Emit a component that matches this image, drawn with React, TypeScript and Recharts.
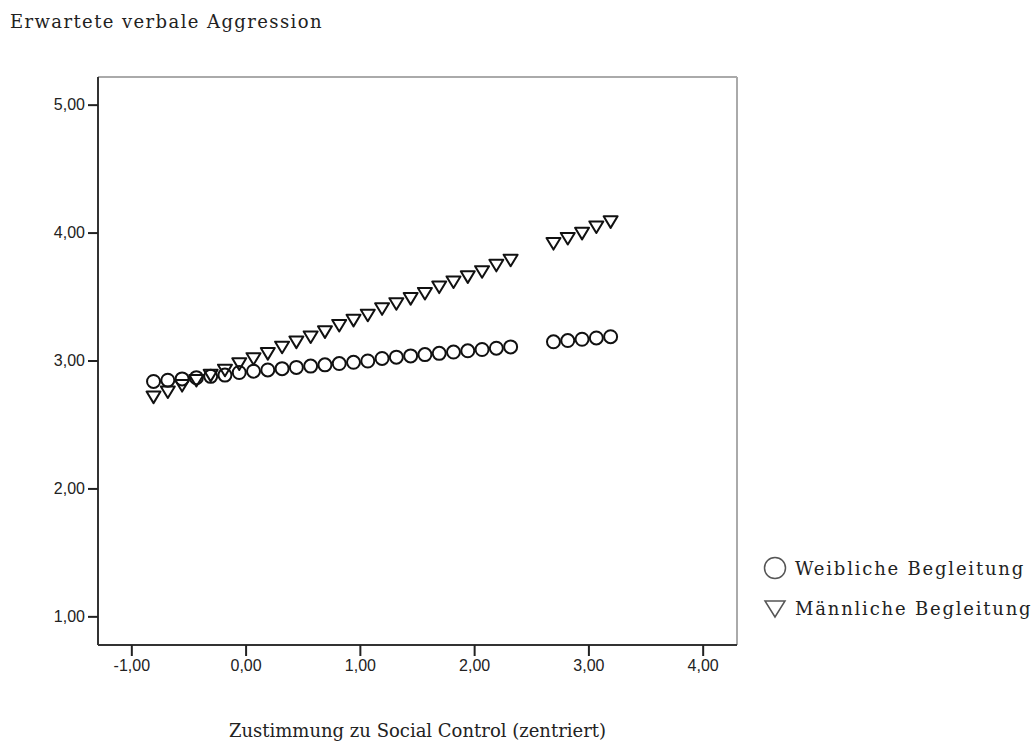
import { ScatterChart, Scatter, XAxis, YAxis, ReferenceLine } from 'recharts';

// x values (centered Social Control score) for each predicted point
const xValues = [
  -0.81, -0.685, -0.56, -0.435, -0.31, -0.185, -0.06, 0.065, 0.19, 0.315,
  0.44, 0.565, 0.69, 0.815, 0.94, 1.065, 1.19, 1.315, 1.44, 1.565,
  1.69, 1.815, 1.94, 2.065, 2.19, 2.315, 2.69, 2.815, 2.94, 3.065, 3.19,
];

const weiblich = [
  2.84, 2.85, 2.86, 2.87, 2.88, 2.89, 2.91, 2.92, 2.93, 2.94,
  2.95, 2.96, 2.97, 2.98, 2.99, 3.0, 3.02, 3.03, 3.04, 3.05,
  3.06, 3.07, 3.08, 3.09, 3.1, 3.11, 3.15, 3.16, 3.17, 3.18, 3.19,
];

const maennlich = [
  2.72, 2.76, 2.81, 2.85, 2.89, 2.93, 2.98, 3.02, 3.06, 3.11,
  3.15, 3.19, 3.23, 3.28, 3.32, 3.36, 3.41, 3.45, 3.49, 3.53,
  3.58, 3.62, 3.66, 3.7, 3.75, 3.79, 3.92, 3.96, 4.0, 4.05, 4.09,
];

const xTicks = [-1, 0, 1, 2, 3, 4];
const yTicks = [1, 2, 3, 4, 5];
const xDomain = [-1.296, 4.296];
const yDomain = [0.78, 5.22];

const seriesNames = ['Weibliche Begleitung', 'Männliche Begleitung'];

const weiblichData = xValues.map((x, i) => ({ x, y: weiblich[i] }));
const maennlichData = xValues.map((x, i) => ({ x, y: maennlich[i] }));

const fmt = (v: number) => v.toFixed(2).replace('.', ',');

const serif = '"DejaVu Serif", serif';
const sans = '"Liberation Sans", Arial, sans-serif';

const XTick = (props: any) => {
  const { x, y, payload } = props;
  return (
    <text x={x} y={y + 13} textAnchor="middle" fontFamily={sans} fontSize={16} fill="#222">
      {fmt(payload.value)}
    </text>
  );
};

const YTick = (props: any) => {
  const { x, y, payload } = props;
  return (
    <text x={x - 1} y={y + 5} textAnchor="end" fontFamily={sans} fontSize={16} fill="#222">
      {fmt(payload.value)}
    </text>
  );
};

const Circle = (props: any) => {
  const { cx, cy } = props;
  return <circle cx={cx} cy={cy} r={6.5} fill="none" stroke="#111" strokeWidth={2} />;
};

const DownTriangle = (props: any) => {
  const { cx, cy } = props;
  const s = 7;
  return (
    <path
      d={`M${cx - s},${cy - s * 0.75} L${cx + s},${cy - s * 0.75} L${cx},${cy + s * 0.9} Z`}
      fill="none"
      stroke="#111"
      strokeWidth={2}
      strokeLinejoin="round"
    />
  );
};

export default function App() {
  return (
    <div
      style={{
        position: 'fixed',
        left: 0,
        top: 0,
        width: 1035,
        height: 746,
        background: '#fff',
        overflow: 'hidden',
      }}
    >
      <div
        style={{
          position: 'absolute',
          left: 10,
          top: 11,
          fontFamily: serif,
          fontSize: 18,
          letterSpacing: 1.4,
          color: '#222',
          whiteSpace: 'nowrap',
        }}
      >
        Erwartete verbale Aggression
      </div>
      <ScatterChart width={1035} height={746} margin={{ top: 77, right: 298, bottom: 61, left: 8 }}>
        <XAxis
          type="number"
          dataKey="x"
          domain={xDomain}
          ticks={xTicks}
          height={40}
          allowDataOverflow
          axisLine={{ stroke: '#333', strokeWidth: 2 }}
          tickLine={{ stroke: '#222', strokeWidth: 2 }}
          tickSize={11}
          tick={<XTick />}
        />
        <YAxis
          type="number"
          dataKey="y"
          domain={yDomain}
          ticks={yTicks}
          width={90}
          allowDataOverflow
          axisLine={{ stroke: '#333', strokeWidth: 2 }}
          tickLine={{ stroke: '#222', strokeWidth: 2 }}
          tickSize={10}
          tick={<YTick />}
        />
        <ReferenceLine y={yDomain[1]} stroke="#aaa" strokeWidth={2} />
        <ReferenceLine x={xDomain[1]} stroke="#aaa" strokeWidth={2} />
        <Scatter name={seriesNames[0]} data={weiblichData} shape={Circle} isAnimationActive={false} />
        <Scatter name={seriesNames[1]} data={maennlichData} shape={DownTriangle} isAnimationActive={false} />
      </ScatterChart>
      <div
        style={{
          position: 'absolute',
          left: 98,
          width: 639,
          top: 720,
          lineHeight: '22px',
          textAlign: 'center',
          fontFamily: serif,
          fontSize: 18,
          color: '#222',
          whiteSpace: 'nowrap',
        }}
      >
        Zustimmung zu Social Control (zentriert)
      </div>
      <div
        style={{
          position: 'absolute',
          left: 762,
          top: 548,
          fontFamily: serif,
          fontSize: 18,
          letterSpacing: 1.8,
          color: '#222',
          whiteSpace: 'nowrap',
        }}
      >
        <div style={{ display: 'flex', alignItems: 'center', height: 40 }}>
          <svg width={26} height={26} style={{ marginRight: 7 }}>
            <circle cx={13} cy={13} r={10.5} fill="none" stroke="#555" strokeWidth={1.5} />
          </svg>
          {seriesNames[0]}
        </div>
        <div style={{ display: 'flex', alignItems: 'center', height: 40 }}>
          <svg width={26} height={26} style={{ marginRight: 7 }}>
            <path d="M3,6 L23,6 L13,22 Z" fill="none" stroke="#555" strokeWidth={1.5} />
          </svg>
          {seriesNames[1]}
        </div>
      </div>
    </div>
  );
}
